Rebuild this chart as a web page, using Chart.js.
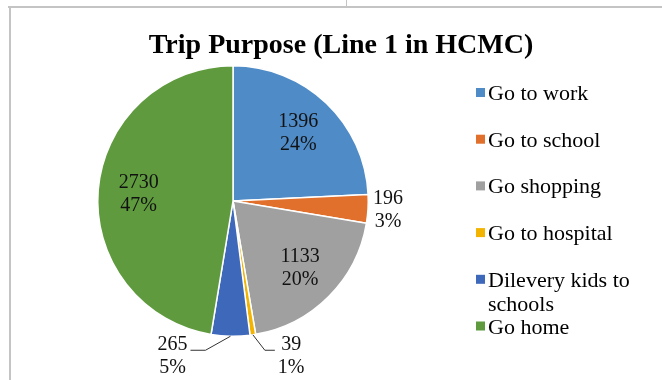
<!DOCTYPE html>
<html>
<head>
<meta charset="utf-8">
<script src="https://cdn.jsdelivr.net/npm/chart.js@4"></script>
<style>
  html, body { margin: 0; padding: 0; background: #ffffff; }
  #wrap { position: relative; width: 662px; height: 380px; overflow: hidden; }
  #grafico { position: absolute; left: 0; top: 0; }
  .linha { position: absolute; background: #c4c4c4; }
</style>
</head>
<body>
<div id="wrap">
  <!-- bordas da pagina em volta do grafico -->
  <div class="linha" style="left:8px; top:6px; width:654px; height:2px;"></div>
  <div class="linha" style="left:9px; top:7px; width:2px; height:373px;"></div>
  <div class="linha" style="left:346px; top:0; width:1px; height:7px;"></div>
  <canvas id="grafico" width="662" height="380"></canvas>
</div>
<script>
// === Dados ===
const categorias = ["Go to work", "Go to school", "Go shopping", "Go to hospital", "Dilevery kids to schools", "Go home"];
const viagens = [1396, 196, 1133, 39, 265, 2730];
const cores = ["#4f8bc6", "#e0702b", "#a0a0a0", "#f2b400", "#3e68ba", "#5f9b3e"];
const titulo = "Trip Purpose (Line 1 in HCMC)";

// onde cada rotulo fica: dentro, fora, ou fora com linha guia
const posRotulo = ["dentro", "fora", "dentro", "guia-dir", "guia-esq", "dentro"];

const fonteTexto = '20px "Liberation Serif", "Times New Roman", serif';
const fonteLegenda = '22px "Liberation Serif", "Times New Roman", serif';

// === Plugin: titulo, rotulos e legenda ===
const pluginRotulos = {
    id: "rotulos",
    afterDatasetsDraw(chart) {
        const ctx = chart.ctx;
        const meta = chart.getDatasetMeta(0);
        const total = viagens.reduce((s, v) => s + v, 0);

        ctx.save();
        // titulo
        ctx.fillStyle = "#000000";
        ctx.font = 'bold 28px "Liberation Serif", "Times New Roman", serif';
        ctx.textAlign = "center";
        ctx.textBaseline = "alphabetic";
        ctx.fillText(titulo, 341, 53);

        // rotulos das fatias
        ctx.font = fonteTexto;
        ctx.textBaseline = "middle";
        meta.data.forEach((arco, i) => {
            const meio = (arco.startAngle + arco.endAngle) / 2;
            const r = arco.outerRadius;
            const cx = arco.x, cy = arco.y;
            const linhas = [String(viagens[i]), Math.round(viagens[i] / total * 100) + "%"];
            let tx, ty;
            ctx.fillStyle = "#111111";
            ctx.textAlign = "center";

            if (posRotulo[i] === "dentro") {
                tx = cx + Math.cos(meio) * r * 0.7;
                ty = cy + Math.sin(meio) * r * 0.7;
            } else if (posRotulo[i] === "fora") {
                tx = cx + Math.cos(meio) * (r + 20);
                ty = cy + Math.sin(meio) * (r + 20);
            } else {
                const lado = posRotulo[i] === "guia-dir" ? 1 : -1;
                const ax = cx + Math.cos(meio) * r;
                const ay = cy + Math.sin(meio) * r;
                const cotoveloX = ax + lado * (lado > 0 ? 12 : 25);
                const linhaY = cy + r + 14;
                const fimX = cotoveloX + lado * (lado > 0 ? 10 : 15);
                ctx.strokeStyle = "#333333";
                ctx.lineWidth = 1;
                ctx.beginPath();
                ctx.moveTo(ax, ay);
                ctx.lineTo(cotoveloX, linhaY);
                ctx.lineTo(fimX, linhaY);
                ctx.stroke();
                const larg = Math.max(...linhas.map(t => ctx.measureText(t).width));
                tx = fimX + lado * (larg / 2 + 3);
                ty = linhaY + 5;
            }
            ctx.fillText(linhas[0], tx, ty - 11);
            ctx.fillText(linhas[1], tx, ty + 12);
        });

        // legenda
        ctx.font = fonteLegenda;
        ctx.textAlign = "left";
        ctx.textBaseline = "alphabetic";
        const xMarca = 476, xTexto = 488, maxLarg = 165;
        let y = 100;
        categorias.forEach((nome, i) => {
            // quebra de linha manual
            const palavras = nome.split(" ");
            const linhas = [];
            let atual = "";
            palavras.forEach(p => {
                const teste = atual ? atual + " " + p : p;
                if (ctx.measureText(teste).width > maxLarg && atual) {
                    linhas.push(atual);
                    atual = p;
                } else {
                    atual = teste;
                }
            });
            linhas.push(atual);

            ctx.fillStyle = cores[i];
            ctx.fillRect(xMarca, y - 12, 9, 9);
            ctx.fillStyle = "#000000";
            linhas.forEach((l, k) => ctx.fillText(l, xTexto, y + k * 24));
            y += 46.7;
        });
        ctx.restore();
    }
};

// === Criacao do grafico ===
const chartViagens = new Chart(document.getElementById("grafico"), {
    type: "pie",
    data: {
        labels: categorias,
        datasets: [{
            data: viagens,
            backgroundColor: cores,
            borderColor: "#ffffff",
            borderWidth: 1.5
        }]
    },
    options: {
        responsive: false,
        animation: false,
        events: [],
        layout: { padding: { left: 97, top: 65, right: 293, bottom: 43 } },
        plugins: {
            legend: { display: false },
            title: { display: false },
            tooltip: { enabled: false }
        }
    },
    plugins: [pluginRotulos]
});
</script>
</body>
</html>
